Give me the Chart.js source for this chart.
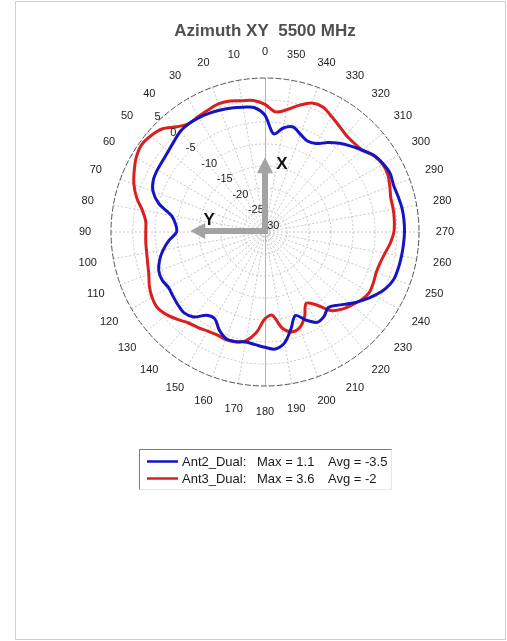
<!DOCTYPE html>
<html>
<head>
<meta charset="utf-8">
<title>Azimuth XY 5500 MHz</title>
<script src="https://cdn.jsdelivr.net/npm/chart.js@4.4.1/dist/chart.umd.min.js"></script>
<style>
  html,body{margin:0;padding:0;background:#fff;}
  canvas{display:block;}
</style>
</head>
<body>
<canvas id="polar" width="507" height="641"></canvas>
<script>
// azimuth in degrees, counter-clockwise from the top (0 = up, 90 = left)
const angles = [0,5,10,15,20,25,30,35,40,45,50,55,60,65,70,75,80,85,
  90,95,100,105,110,115,120,125,130,135,140,145,150,155,160,165,170,175,
  180,185,190,195,200,205,210,215,220,225,230,235,240,245,250,255,260,265,
  270,275,280,285,290,295,300,305,310,315,320,325,330,335,340,345,350,355];

// gain in dBi, same order as angles
const ant2 = [-3.5,-1.6,-1.2,-0.8,-0.5,-0.2,0.0,0.1,-0.1,-0.8,-1.35,-1.65,-1.75,-2.0,-2.9,-5.0,-8.4,-9.6,
  -9.9,-8.1,-6.5,-5.2,-4.3,-4.2,-4.7,-4.5,-4.2,-4.0,-4.8,-6.9,-7.2,-5.4,-4.2,-4.2,-4.6,-4.3,
  -3.8,-3.3,-4.4,-7.2,-9.8,-7.9,-6.3,-6.6,-7.6,-6.5,-4.7,-2.9,-1.2,0.3,1.2,1.4,1.5,1.6,
  1.7,1.7,1.6,1.3,1.1,1.4,1.0,0.3,-1.1,-2.4,-3.7,-5.2,-6.8,-7.2,-6.4,-5.3,-6.0,-7.6];
const ant3 = [-1.0,0.0,0.3,0.8,1.0,0.6,0.3,0.1,1.2,3.1,3.95,4.35,3.8,2.8,1.7,0.2,-1.7,-2.8,
  -2.9,-2.8,-2.7,-2.4,-1.9,-1.0,-0.35,-0.1,-0.8,-1.9,-3.0,-3.5,-4.0,-4.2,-4.0,-4.2,-4.9,-7.0,
  -10.3,-11.0,-7.9,-6.5,-6.9,-8.7,-11.3,-9.8,-6.7,-5.2,-4.2,-3.2,-2.6,-2.8,-3.1,-2.9,-2.3,-1.4,
  -0.7,-0.5,-0.4,-0.4,0.2,0.8,0.85,0.2,-1.1,-1.4,-1.3,-0.6,0.3,1.3,1.2,-0.2,-1.8,-2.6];

const seriesNames = ['Ant2_Dual', 'Ant3_Dual'];
const seriesColors = ['#1414c4', '#da1f1f'];
const seriesMax = [1.1, 3.6];
const seriesAvg = [-3.5, -2];

const ringTicks = [-30, -25, -20, -15, -10, -5, 0, 5];
const axisArrows = [
  { name: 'X', angle: 0,  reach: -13 },
  { name: 'Y', angle: 90, reach: -13 }
];

// radar goes clockwise, the plot goes counter-clockwise: walk the angles backwards
const order = angles.map((a, i) => (angles.length - i) % angles.length);
const labels = order.map(i => String(angles[i]));

const FONT = '"Liberation Sans", Arial, sans-serif';
const tickAngle = 45 * Math.PI / 180;

const decor = {
  id: 'decor',
  beforeDraw(chart){
    const c = chart.ctx;
    c.save();
    c.fillStyle = '#fff';
    c.fillRect(0, 0, chart.width, chart.height);
    c.strokeStyle = '#cfcfcf';
    c.lineWidth = 1;
    c.strokeRect(15.5, 1.5, 490, 638);
    c.restore();
  },
  beforeDatasetsDraw(chart){
    const s = chart.scales.r, c = chart.ctx;
    const R = s.getDistanceFromCenterForValue(s.max);
    c.save();
    // 0-180 axis, solid
    c.strokeStyle = '#b4b4b4'; c.lineWidth = 1;
    c.beginPath();
    c.moveTo(s.xCenter + 0.5, s.yCenter - R);
    c.lineTo(s.xCenter + 0.5, s.yCenter + R);
    c.stroke();
    // outer ring, dashed
    c.strokeStyle = '#555'; c.setLineDash([6, 2]);
    c.beginPath();
    c.arc(s.xCenter, s.yCenter, R, 0, Math.PI * 2);
    c.stroke();
    c.restore();
  },
  afterDatasetsDraw(chart){
    const s = chart.scales.r, c = chart.ctx;
    const R = s.getDistanceFromCenterForValue(s.max);
    c.save();
    c.fillStyle = '#222';
    c.font = '11px ' + FONT;
    // angle labels
    c.textAlign = 'center'; c.textBaseline = 'middle';
    s._pointLabels.forEach((lab, i) => {
      if (+lab % 10 !== 0) return;
      const p = s.getPointPosition(i, R + 26);
      c.fillText(lab, p.x, p.y);
    });
    // ring labels along the 45 degree ray
    c.textAlign = 'left';
    ringTicks.forEach(v => {
      const d = s.getDistanceFromCenterForValue(v);
      c.fillText(String(v), s.xCenter - d * Math.sin(tickAngle) - 1.5, s.yCenter - d * Math.cos(tickAngle) - 6);
    });
    // X / Y arrows
    c.fillStyle = '#a3a3a3';
    const xc = s.xCenter, yc = s.yCenter;
    axisArrows.forEach(a => {
      const L = s.getDistanceFromCenterForValue(a.reach);
      c.beginPath();
      if (a.angle === 0) {
        const tip = yc - L;
        c.moveTo(xc - 3, yc + 2); c.lineTo(xc - 3, tip + 16); c.lineTo(xc - 8, tip + 16);
        c.lineTo(xc, tip); c.lineTo(xc + 8, tip + 16); c.lineTo(xc + 3, tip + 16); c.lineTo(xc + 3, yc + 2);
      } else {
        const tip = xc - L, y = yc - 1;
        c.moveTo(xc + 3, y + 3); c.lineTo(tip + 15, y + 3); c.lineTo(tip + 15, y + 8);
        c.lineTo(tip, y); c.lineTo(tip + 15, y - 8); c.lineTo(tip + 15, y - 3); c.lineTo(xc + 3, y - 3);
      }
      c.closePath();
      c.fill();
    });
    c.fillStyle = '#111';
    c.font = 'bold 17px ' + FONT;
    c.textAlign = 'center';
    axisArrows.forEach(a => {
      const L = s.getDistanceFromCenterForValue(a.reach);
      if (a.angle === 0) c.fillText(a.name, xc + 17, yc - L + 7);
      else c.fillText(a.name, xc - L + 19, yc - 12);
    });
    c.restore();
  },
  afterDraw(chart){
    const c = chart.ctx;
    const bx = 139.5, by = 449.5, bw = 252, bh = 40;
    c.save();
    c.strokeStyle = '#e6e6e6'; c.lineWidth = 1;
    c.strokeRect(bx, by, bw, bh);
    c.strokeStyle = '#7a7a7a';
    c.beginPath(); c.moveTo(bx, by + bh); c.lineTo(bx, by); c.lineTo(bx + bw, by); c.stroke();
    c.font = '13px ' + FONT;
    c.textBaseline = 'middle'; c.textAlign = 'left';
    chart.data.datasets.forEach((ds, i) => {
      const y = 461.5 + i * 17;
      c.strokeStyle = ds.borderColor; c.lineWidth = 2.5;
      c.beginPath(); c.moveTo(147, y); c.lineTo(178, y); c.stroke();
      c.fillStyle = '#1a1a1a';
      c.fillText(ds.label + ':', 182, y + 0.5);
      c.fillText('Max = ' + seriesMax[i], 257, y + 0.5);
      c.fillText('Avg = ' + seriesAvg[i], 328, y + 0.5);
    });
    c.restore();
  }
};

new Chart(document.getElementById('polar'), {
  type: 'radar',
  data: {
    labels: labels,
    datasets: [
      { label: seriesNames[0], data: order.map(i => ant2[i]), borderColor: seriesColors[0] },
      { label: seriesNames[1], data: order.map(i => ant3[i]), borderColor: seriesColors[1] }
    ]
  },
  options: {
    responsive: false,
    animation: false,
    layout: { padding: { left: 111, right: 88, top: 0, bottom: 255 } },
    elements: {
      line: { borderWidth: 3, fill: false, tension: 0.3, backgroundColor: 'rgba(0,0,0,0)' },
      point: { radius: 0, hitRadius: 0, hoverRadius: 0 }
    },
    scales: {
      r: {
        min: -30, max: 5,
        startAngle: 0,
        ticks: { display: false, stepSize: 5 },
        pointLabels: { display: false },
        grid: {
          circular: true, lineWidth: 1,
          color: ctx => (ctx.tick && ctx.tick.value === 5) ? 'rgba(0,0,0,0)' : '#c8c8c8'
        },
        border: { dash: [2, 2] },
        angleLines: {
          display: true, borderDash: [2, 2], color: '#c8c8c8',
          lineWidth: ctx => (+ctx.label % 10 === 0 && +ctx.label % 180 !== 0) ? 1 : 0
        }
      }
    },
    plugins: {
      legend: { display: false },
      tooltip: { enabled: false },
      title: {
        display: true,
        text: 'Azimuth XY  5500 MHz',
        color: '#505050',
        font: { family: FONT, size: 17, weight: 'bold' },
        padding: { top: 21, bottom: 36.6 }
      }
    }
  },
  plugins: [decor]
});
</script>
</body>
</html>
